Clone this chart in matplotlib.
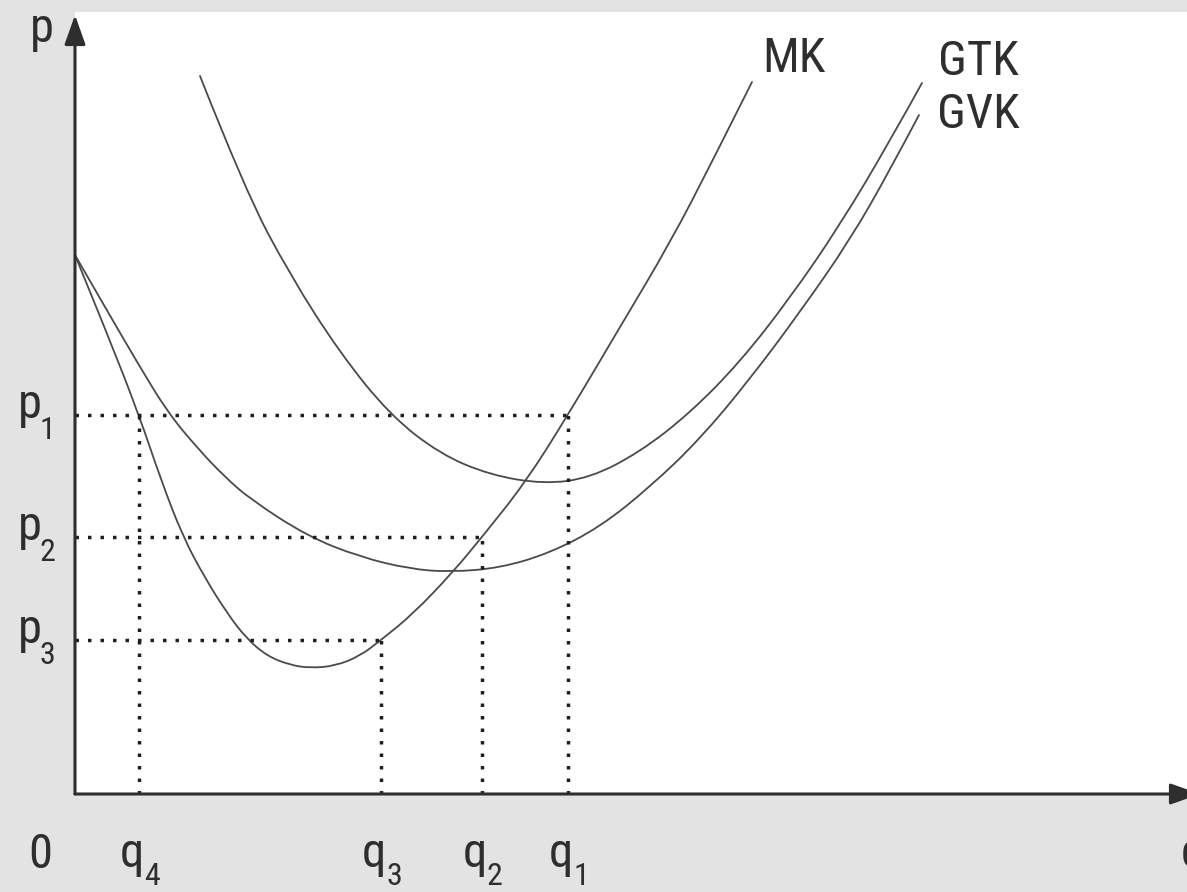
import matplotlib
matplotlib.use("Agg")
import matplotlib.pyplot as plt
from matplotlib.path import Path
from matplotlib.patches import PathPatch

# ---- values (1 unit = 10 px, origin at the axes corner) ----
q_levels = {"1": 49.3, "2": 40.7, "3": 30.6, "4": 6.4}
p_levels = {"1": 37.9, "2": 25.7, "3": 15.4}

mk_q = [0, 3.2, 6.4, 8.6, 10.8, 13.0, 15.2, 17.1, 19.2, 21.5, 23.5, 26.0,
        28.5, 30.6, 33.8, 37.8, 40.7, 45.0, 49.3, 54.5, 59.5, 63.8, 67.7]
mk_p = [53.9, 46.1, 37.9, 31.4, 25.7, 21.6, 18.1, 15.6, 13.8, 12.9, 12.6, 12.8,
        13.8, 15.4, 18.0, 22.2, 25.7, 31.1, 37.9, 46.7, 55.1, 63.4, 71.2]

gtk_q = [12.5, 17.0, 21.5, 26.5, 31.5, 36.5, 41.5, 46.9, 51.5, 56.5, 61.5,
         66.5, 71.5, 76.5, 81.5, 84.7]
gtk_p = [71.8, 60.4, 51.9, 44.1, 37.9, 34.0, 31.9, 31.0, 31.6, 34.2, 38.1,
         43.2, 49.6, 56.9, 65.3, 71.1]

gvk_q = [0, 3.0, 6.2, 9.3, 12.5, 15.0, 17.5, 23.2, 28.5, 33.5, 37.5, 42.5,
         47.5, 52.5, 57.5, 62.5, 67.5, 72.5, 77.5, 81.5, 84.4]
gvk_p = [53.9, 48.7, 43.2, 38.1, 34.3, 31.7, 29.5, 25.8, 23.7, 22.5, 22.2, 22.6,
         24.1, 26.7, 30.7, 35.5, 41.5, 48.2, 55.4, 62.4, 67.9]

curve_labels = {"MK": (68.7, 72.2), "GTK": (86.3, 71.9), "GVK": (86.2, 66.6)}

# ---- style ----
BG = "#e3e3e3"
INK = "#2e2e2e"
CURVE = "#4a4a4a"
FONT = ["Roboto Condensed", "Liberation Sans Narrow", "Open Sans Condensed",
        "DejaVu Sans"]
BIG, SMALL = 35, 23

fig = plt.figure(figsize=(11.87, 8.92), dpi=100, facecolor=BG)
ax = fig.add_axes([75 / 1187, 98 / 892, 1112 / 1187, 782 / 892])
ax.set_xlim(0, 111.2)
ax.set_ylim(0, 78.2)
ax.set_facecolor("white")
for s in ax.spines.values():
    s.set_visible(False)
ax.set_xticks([])
ax.set_yticks([])

# axes with arrow heads
arrow = dict(arrowstyle="-|>,head_length=0.45,head_width=0.16", lw=2.2,
             color=INK, mutation_scale=40, shrinkA=0, shrinkB=0)
ax.annotate("", xy=(0, 77.9), xytext=(0, 0), arrowprops=arrow,
            annotation_clip=False)
ax.annotate("", xy=(112.5, 0), xytext=(0, 0), arrowprops=arrow,
            annotation_clip=False)

# dotted guide lines
dots = dict(color="#1e1e1e", lw=2.5, linestyle=(0, (1, 2.6)))
for k in ["1", "2", "3"]:
    ax.plot([0, q_levels[k]], [p_levels[k], p_levels[k]], **dots)
    ax.plot([q_levels[k], q_levels[k]], [0, p_levels[k]], **dots)
ax.plot([q_levels["4"], q_levels["4"]], [0, p_levels["1"]], **dots)


def smooth_curve(xs, ys):
    # read points used as quadratic bezier control points
    pts = list(zip(xs, ys))
    verts = [pts[0]]
    codes = [Path.MOVETO]
    for i in range(1, len(pts) - 1):
        nxt = pts[i + 1] if i == len(pts) - 2 else (
            (pts[i][0] + pts[i + 1][0]) / 2, (pts[i][1] + pts[i + 1][1]) / 2)
        verts += [pts[i], nxt]
        codes += [Path.CURVE3, Path.CURVE3]
    ax.add_patch(PathPatch(Path(verts, codes), fill=False, edgecolor=CURVE,
                           lw=1.3, capstyle="round"))


for xs, ys in [(mk_q, mk_p), (gtk_q, gtk_p), (gvk_q, gvk_p)]:
    smooth_curve(xs, ys)


def label(x, y, s, size=BIG):
    ax.text(x, y, s, fontsize=size, family=FONT, fontstretch="condensed",
            color=INK, ha="left", va="baseline", clip_on=False)


for name, (x, y) in curve_labels.items():
    label(x, y, name)

# axis labels
label(-4.5, 75.2, "p")
label(-4.7, -7.4, "0")
label(110.6, -7.3, "q")
for k, q in q_levels.items():
    label(q - 1.9, -7.3, "q")
    label(q + 0.5, -9.1, k, SMALL)
for k, p in p_levels.items():
    label(-5.7, p - 0.3, "p")
    label(-3.5, p - 2.4, k, SMALL)

fig.savefig("out.png", dpi=100, facecolor=BG)
